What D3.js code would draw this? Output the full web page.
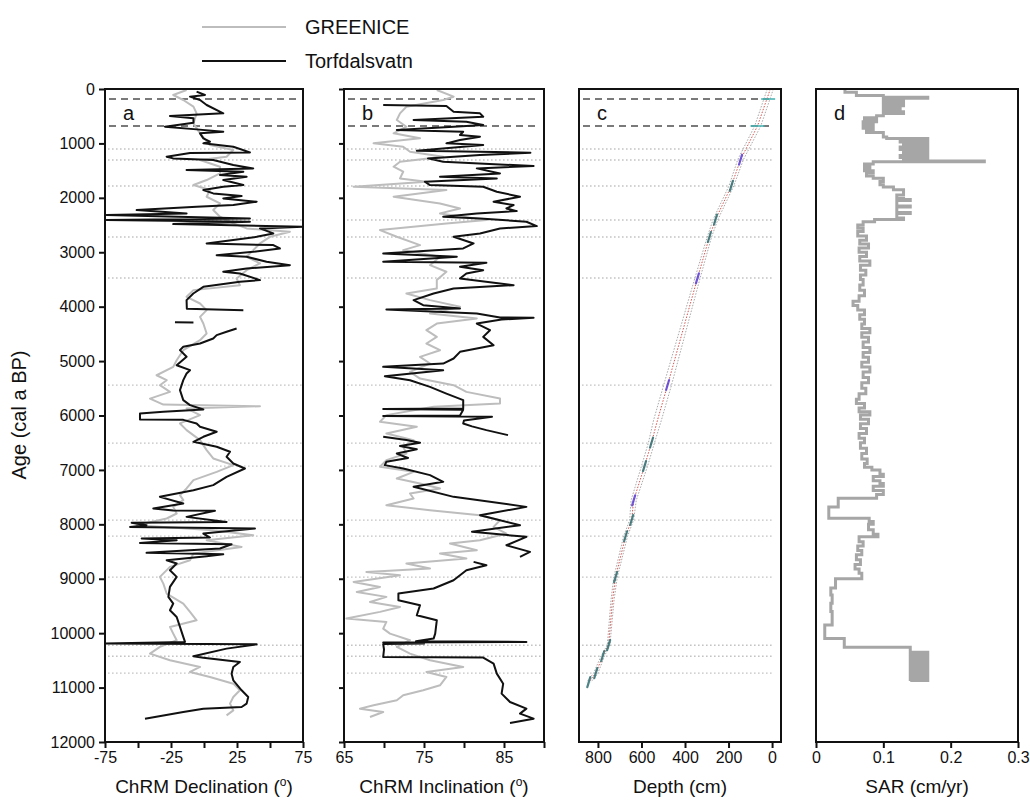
<!DOCTYPE html>
<html>
<head>
<meta charset="utf-8">
<script src="https://cdn.jsdelivr.net/npm/d3@7"></script>
<style>
  html, body { margin: 0; padding: 0; background: #fff; }
  svg text { font-family: "Liberation Sans", Arial, Helvetica, sans-serif; fill: #111; }
</style>
</head>
<body>
<svg id="chart" width="1030" height="800"></svg>
<script>
// ---------- data ----------
// Age axis
const ageTicks = [0, 1000, 2000, 3000, 4000, 5000, 6000, 7000, 8000, 9000, 10000, 11000, 12000];

// Reference horizons (cal a BP)
const dashedAges = [184, 680];
const dottedAges = [1103, 1305, 1783, 2408, 2720, 3474, 5441, 6507, 6930, 7923, 8217, 8971, 10221, 10423, 10735];

// (a) ChRM declination – GREENICE model
const greeniceDeclAge = [18,110,202,325,447,631,815,1030,1122,1244,1306,1428,1551,1673,1765,1857,1980,2103,2225,2348,2470,2562,2624,2716,2838,2961,3083,3206,3329,3482,3605,3696,3819,3942,4064,4187,4310,4494,4616,4800,4984,5106,5260,5351,5443,5566,5689,5800,5830,5870,5993,6146,6269,6453,6637,6790,6912,7035,7188,7341,7464,7556,7679,7801,7893,8016,8108,8200,8292,8415,8537,8659,8782,8966,9089,9272,9456,9609,9763,9885,10008,10130,10253,10376,10498,10621,10713,10805,10928,11050,11173,11295,11418,11510];
const greeniceDecl = [-13.2,-23.3,-15.7,-8,-5.6,-8,-3,4.5,22.2,17.1,-3,12.1,12.1,2,-8,4.5,2,12.1,7,12.1,22.2,32.3,65.1,50,42.4,37.3,32.3,42.4,32.3,24.7,27.2,-8,-13.2,-3,2,-3,-0.5,2,-3,-15.7,-20.7,-23.3,-35.9,-28.3,-33.4,-25.8,-40.9,-30.8,42.4,-13.2,-3,-18.2,-13.2,-3,2,7,22.2,9.6,-8,-13.2,-18.2,-15.7,-23.3,-20.7,-28.3,-51,7,37.3,2,28.5,-8,-10.6,-25.8,-33.4,-30.8,-28.3,-15.7,-10.6,-5.6,-25.8,-23.3,-20.7,-33.4,-40.9,-25.8,-3,-10.6,4.5,22.2,27.2,22.2,19.7,22.2,17.1];

// (a) ChRM declination – Torfdalsvatn (null = gap in record)
const torfDeclAge = [49,110,141,202,294,447,497,539,619,693,742,785,815,907,969,999,1060,1165,1175,1244,1275,1306,1398,1459,1490,1520,1582,1612,1673,1765,1796,1857,1919,1968,2011,2072,2133,2164,2225,2286,2317,2378,2409,2440,2483,2532,2562,2654,2716,2838,2869,2930,2991,3053,3083,3175,3237,3298,3359,3390,3512,3543,3635,3758,3880,4040,4064,null,4285,4290,null,4400,4461,4523,4584,4676,4737,4799,4921,5076,5167,5228,5350,5534,5718,5809,5889,5932,5962,6073,6080,6146,6207,6299,6391,6483,6575,6667,6759,6882,6974,7127,7280,7372,7495,7618,7709,7745,7752,7863,7955,7973,8016,8047,8077,8169,8243,8261,8292,8341,8365,8445,8524,8549,8586,8659,8720,8843,8966,9150,9333,9456,9579,9702,9885,10069,10161,10192,10205,10284,10425,10450,10529,10621,10744,10866,11050,11173,11295,11357,11387,11449,11571];
const torfDecl = [-5.6,0.7,-10.6,-3,2,14.6,-25.8,-8,-8,-29.6,-5.6,14.6,-3,-0.5,4.5,-0.5,22.2,34.8,-10.6,-28.3,-23.3,7,22.2,37.3,-13.2,29.8,12.1,32.3,14.6,29.8,14.6,-0.5,7,28.5,14.6,39.9,22.2,-5.6,-51,-13.2,-73.8,34.8,-73.8,34.8,-23.3,74.8,42.4,52.5,39.9,2,52.5,57.5,37.3,9.6,32.3,47.4,65.1,32.3,14.6,27.2,42.4,27.2,-0.5,-8.1,-13.2,-13,29.8,null,-22,-8,null,24.7,17.1,9.6,7,-3,-15.7,-18.2,-13.2,-20.7,-10.6,-13.2,-15.7,-18.2,-15.7,-10.6,-0.5,-30.8,-48.5,-48.5,-15.7,-5.6,-3,9.6,-0.5,-8,9.6,19.7,17.1,22.2,31,17.1,7,-8,-33.4,-15.7,-38.4,-23.3,8.3,-13.2,17.1,-54.8,-43.5,-56,38.6,-0.5,4.5,-47.2,-20.7,-48.5,20.9,12.1,-43.5,14.6,2,-28.3,-20.7,-25.8,-20.7,-25.8,-27,-23.3,-25.8,-20.7,-18.2,-15.7,-14.4,-75,39.9,17.1,-8,-0.5,27.2,22.2,20.9,22.2,28.5,33.5,32.3,28.5,-0.5,-15.7,-44.7];

// (b) ChRM inclination – GREENICE model
const greeniceIncAge = [18,141,202,325,447,570,693,815,907,999,1060,1152,1244,1336,1428,1520,1643,1704,1796,1857,1980,2103,2195,2286,2409,2470,2593,2716,2869,2961,3083,3237,3359,3512,3666,3758,3880,4003,4125,4217,4310,4432,4555,4677,4800,4922,5045,5198,5321,5443,5566,5689,5778,5840,5993,6115,6207,6330,6453,6575,6698,6820,6943,7035,7158,7250,7341,7434,7525,7648,7740,7832,7924,8047,8169,8292,8353,8476,8537,8629,8721,8813,8874,8935,9058,9150,9242,9333,9426,9518,9609,9732,9793,9916,10008,10130,10253,10376,10498,10621,10713,10805,10958,11050,11142,11234,11326,11387,11449,11541];
const greeniceInc = [76.6,78.7,77.4,72.8,72,71.6,72.8,71.2,74.5,68.7,72.4,73.25,77.4,72,71.2,72.4,72,75.3,66.2,77.8,71.2,77,79.5,77,82.8,77.8,69.5,71.6,74.5,72.4,77,75.75,77.8,76.6,76.6,72.8,75.75,79.5,75.75,81.6,76.6,75.3,76.6,75.3,77,74.5,75.75,73.25,74.5,78.7,80.3,84.5,84.5,76.2,70.3,69.5,74.1,70.3,73.7,72.4,72.8,70.3,69.5,73.7,71.6,74.5,77,73.25,73.7,70.3,75.75,82,84.5,83.7,85.3,82,78.25,81.6,77,80.3,72.8,75.75,67.8,72,66.2,69.5,66.6,70.3,68.25,72,69.5,65.3,70.3,69.9,70.75,73.25,71.6,73.25,75.75,79.9,75.3,77.8,77,74.9,72.4,71.6,68.7,67,69.9,68.25];

// (b) ChRM inclination – Torfdalsvatn (null = gap in record)
const torfIncAge = [294,313,417,447,509,570,601,662,693,754,785,846,877,938,999,1030,1134,1171,1214,1275,1336,1416,1459,1551,1612,1643,1704,1765,1796,1888,1980,2072,2133,2195,2244,2286,2348,2378,2440,2519,2562,2654,2716,2838,2930,3022,3083,3175,3194,3267,3329,3390,3482,3605,3666,3758,3880,3972,4034,4052,4125,4199,4205,4236,4310,4432,4555,4708,4830,4953,5045,5106,5168,5278,5351,5474,5597,5717,5870,5880,5895,6000,6011,6024,6090,6146,6200,6269,6361,null,6391,6450,6500,6560,6620,6700,6780,6850,6912,6974,7096,7219,7311,7495,7679,7832,8016,8138,8230,8384,8506,8598,null,8690,8751,8843,9027,9180,9272,9395,9487,9671,9763,10008,10100,10150,10161,10170,10192,10200,10300,10437,10449,10560,10744,10928,11111,11265,11387,11479,11571,11651];
const torfInc = [69.9,77.8,78.7,82,82.4,73.7,80.3,82.4,78.7,71.6,79.9,79.5,82,79.5,77.8,82.4,74.1,88.3,82,75.5,77.4,88.7,81.6,84.5,77,84.1,75.1,75.75,82.4,84.1,87,83.7,86.2,85.3,86.6,81.6,77.4,82,87.8,89.1,84.5,82,78.7,81.2,79.9,69.9,79.1,69.9,82.8,79.5,82.4,80.3,79.5,86.2,78.7,76.2,73.7,74.9,79.5,70.3,81.6,84.5,88.7,84.7,81.6,83.25,82.4,83.7,79.5,78.7,77.4,69.9,77.4,70.1,73.25,75.75,77.8,79.9,79.9,69.9,79.9,79.5,69.9,83.5,80,79.9,81,82.8,85.5,null,69.9,72.8,74.5,72,74.1,71.6,73,70.3,70.1,72.4,75.75,77.4,73.7,78.7,87.8,82,87,81,87.8,85.3,88.25,87,null,81.2,82.8,80.3,78.7,76.2,71.8,71.8,74.5,74.1,76.6,76.4,76.2,74,87.8,69.9,75,69.9,70,69.9,82.4,83.7,84.1,84.9,84.7,85.75,87.8,87,88.7,85.75];

// (c) Age–depth model: median and envelope
const modelAge   = [0,680,1300,1780,2400,2720,3480,5440,6080,6500,6930,7560,7920,8220,8970,9390,10220,10420,10735,10900];
const modelDepth = [8,67,145,187,260,288,343,480,526,554,586,636,645,673,719,733,751,778,810,842];
const modelMin   = [-6,52,132,176,249,278,331,462,508,540,572,624,636,664,711,726,745,770,800,832];
const modelMax   = [22,80,158,198,271,298,355,498,544,568,600,648,654,682,727,740,757,786,820,852];

// (c) Dated horizons
const dateAge   = [1300,1780,2400,2720,3480,5440,6500,6930,7560,7920,8220,8970,10220,10420,10735,10900];
const dateDepth = [145,187,260,288,343,480,554,586,636,645,673,719,751,778,810,842];
const dateKind  = ["p","t","t","t","p","p","t","t","p","t","t","t","t","t","t","t"];
const tephraAge = [184, 680];
const tephraDepth = [18, 67];

// (d) Sediment accumulation rate (step profile, value holds downward to next age)
const sarAge = [0,60,120,150,170,210,240,280,310,350,380,420,450,490,530,570,600,640,680,720,760,800,880,910,935,975,1000,1040,1065,1110,1140,1190,1220,1260,1290,1325,1335,1380,1420,1460,1500,1540,1600,1640,1700,1760,1800,1850,1950,2010,2030,2050,2150,2170,2270,2290,2370,2400,2440,2500,2560,2620,2700,2780,2850,2920,3000,3080,3160,3240,3330,3420,3500,3600,3700,3800,3900,3980,4060,4150,4230,4320,4400,4480,4560,4650,4750,4840,4930,5020,5110,5200,5300,5400,5500,5600,5700,5780,5860,5930,5990,6070,6150,6240,6330,6420,6500,6600,6700,6800,6880,6950,7000,7080,7120,7200,7250,7300,7380,7450,7520,7680,7890,7950,8000,8100,8180,8230,8320,8400,8480,8560,8650,8740,8820,8900,9000,9170,9300,9450,9600,9850,10100,10260,10350,10375,10400,10425,10450,10475,10500,10525,10550,10575,10600,10625,10650,10675,10700,10725,10750,10775,10800,10825,10850,10870,10880];
const sarValue = [0.043,0.06,0.1,0.166,0.1,0.13,0.1,0.13,0.1,0.125,0.1,0.13,0.1,0.09,0.072,0.09,0.07,0.085,0.07,0.085,0.075,0.1,0.105,0.166,0.125,0.166,0.13,0.166,0.125,0.166,0.13,0.166,0.125,0.166,0.13,0.25,0.085,0.072,0.08,0.072,0.085,0.075,0.085,0.1,0.095,0.1,0.115,0.13,0.12,0.13,0.14,0.12,0.14,0.12,0.14,0.12,0.13,0.087,0.07,0.062,0.07,0.062,0.075,0.065,0.078,0.064,0.075,0.065,0.08,0.066,0.074,0.066,0.07,0.065,0.072,0.064,0.055,0.062,0.072,0.065,0.072,0.068,0.08,0.068,0.078,0.07,0.08,0.07,0.078,0.068,0.08,0.07,0.078,0.068,0.074,0.064,0.06,0.072,0.064,0.08,0.066,0.078,0.066,0.075,0.064,0.072,0.066,0.075,0.068,0.076,0.072,0.083,0.095,0.1,0.085,0.095,0.1,0.085,0.1,0.09,0.033,0.019,0.079,0.085,0.078,0.085,0.092,0.064,0.07,0.062,0.068,0.06,0.066,0.058,0.064,0.068,0.029,0.022,0.024,0.022,0.024,0.013,0.042,0.14,0.166,0.14,0.166,0.14,0.166,0.14,0.166,0.14,0.166,0.14,0.166,0.14,0.166,0.14,0.166,0.14,0.166,0.14,0.166,0.14,0.166,0.14,0.14,0.125];

// Axis ticks and labels
const declTicks = [-75,-50,-25,0,25,50,75];
const declLabels = [-75,-25,25,75];
const incTicks = [65,70,75,80,85,90];
const incLabels = [65,75,85];
const depthTicks = [800,600,400,200,0];
const sarTicks = [0,0.1,0.2,0.3];

const legendNames = ["GREENICE", "Torfdalsvatn"];

// ---------- layout ----------
const svg = d3.select("#chart");
const plotTop = 89, plotBottom = 742;
const y = d3.scaleLinear().domain([0, 12000]).range([plotTop, plotBottom]);

const panels = [
  { key: "a", x: d3.scaleLinear().domain([-75, 75]).range([105, 303]) },
  { key: "b", x: d3.scaleLinear().domain([65, 90]).range([344, 544]) },
  { key: "c", x: d3.scaleLinear().domain([887, -41]).range([579, 781]) },
  { key: "d", x: d3.scaleLinear().domain([0, 0.3]).range([816, 1018]) }
];
const [pa, pb, pc, pd] = panels;

const GREY = "#bdbdbd";
const BLACK = "#111";

// horizon lines in panels a–c
[pa, pb, pc].forEach((p, i) => {
  const [x0, x1] = p.x.range();
  const g = svg.append("g");
  g.selectAll("line.dot").data(dottedAges).join("line")
    .attr("x1", x0 + 3).attr("x2", i === 2 ? x1 - 8 : x1 - 1)
    .attr("y1", d => y(d)).attr("y2", d => y(d))
    .attr("stroke", "#c4c4c4").attr("stroke-width", 1.4)
    .attr("stroke-dasharray", "1.6,2.4");
  g.selectAll("line.dash").data(dashedAges).join("line")
    .attr("x1", x0 + 4).attr("x2", i === 2 ? x1 - 12 : x1 - 4)
    .attr("y1", d => y(d)).attr("y2", d => y(d))
    .attr("stroke", "#7a7a7a").attr("stroke-width", 1.8)
    .attr("stroke-dasharray", "7,5");
});

function profile(xs, ages, vals) {
  return d3.line()
    .defined((d, i) => ages[i] != null && vals[i] != null)
    .x((d, i) => xs(vals[i]))
    .y((d, i) => y(ages[i]))(ages);
}

// panel a
svg.append("path").attr("d", profile(pa.x, greeniceDeclAge, greeniceDecl))
  .attr("fill", "none").attr("stroke", GREY).attr("stroke-width", 2).attr("stroke-linejoin", "round");
svg.append("path").attr("d", profile(pa.x, torfDeclAge, torfDecl))
  .attr("fill", "none").attr("stroke", BLACK).attr("stroke-width", 2).attr("stroke-linejoin", "round");

// panel b
svg.append("path").attr("d", profile(pb.x, greeniceIncAge, greeniceInc))
  .attr("fill", "none").attr("stroke", GREY).attr("stroke-width", 2).attr("stroke-linejoin", "round");
svg.append("path").attr("d", profile(pb.x, torfIncAge, torfInc))
  .attr("fill", "none").attr("stroke", BLACK).attr("stroke-width", 2).attr("stroke-linejoin", "round");

// panel c: envelope, median, dated levels
[modelMin, modelMax].forEach(arr => {
  svg.append("path").attr("d", profile(pc.x, modelAge, arr))
    .attr("fill", "none").attr("stroke", "#a8a8a8").attr("stroke-width", 1)
    .attr("stroke-dasharray", "1.5,1.5");
});
svg.append("path").attr("d", profile(pc.x, modelAge, modelDepth))
  .attr("fill", "none").attr("stroke", "#d9534f").attr("stroke-width", 1)
  .attr("stroke-dasharray", "1.5,1.5");
svg.selectAll("line.date").data(dateAge).join("line")
  .attr("x1", (d, i) => pc.x(dateDepth[i]) + 1.5).attr("x2", (d, i) => pc.x(dateDepth[i]) - 1.5)
  .attr("y1", d => y(d) - 5).attr("y2", d => y(d) + 5)
  .attr("stroke", (d, i) => dateKind[i] === "p" ? "#5b3fd6" : "#2f6f73")
  .attr("stroke-width", 2.2).attr("stroke-linecap", "round").attr("opacity", 0.85);
svg.selectAll("line.teph").data(tephraAge).join("line")
  .attr("x1", (d, i) => pc.x(tephraDepth[i]) - 7).attr("x2", (d, i) => pc.x(tephraDepth[i]) + 7)
  .attr("y1", d => y(d)).attr("y2", d => y(d))
  .attr("stroke", "#4bb3b3").attr("stroke-width", 1.6);

// panel d: SAR step profile
svg.append("path")
  .attr("d", d3.line().curve(d3.curveStepBefore)
    .x((d, i) => pd.x(sarValue[i])).y((d, i) => y(sarAge[i]))(sarAge))
  .attr("fill", "none").attr("stroke", "#a6a6a6").attr("stroke-width", 3);

// frames
panels.forEach(p => {
  const [x0, x1] = p.x.range();
  svg.append("rect").attr("x", x0).attr("y", plotTop).attr("width", x1 - x0).attr("height", plotBottom - plotTop)
    .attr("fill", "none").attr("stroke", "#111").attr("stroke-width", 2);
});

// x axes
function xAxis(p, ticks, labels, fmt) {
  const g = svg.append("g").attr("transform", `translate(0,${plotBottom})`)
    .call(d3.axisBottom(p.x).tickValues(ticks).tickSize(6).tickPadding(4)
      .tickFormat(d => labels.includes(d) ? fmt(d) : ""));
  g.select(".domain").remove();
  g.selectAll(".tick line").attr("stroke", "#111").attr("stroke-width", 2);
  g.selectAll(".tick text").attr("font-size", 16).attr("fill", "#111")
    .style("font-family", '"Liberation Sans", Arial, sans-serif');
}
xAxis(pa, declTicks, declLabels, d => d);
xAxis(pb, incTicks, incLabels, d => d);
xAxis(pc, depthTicks, depthTicks, d => d);
xAxis(pd, sarTicks, sarTicks, d => d);

// y axis (labelled on a, ticks on b)
const ya = svg.append("g").attr("transform", `translate(${pa.x.range()[0]},0)`)
  .call(d3.axisLeft(y).tickValues(ageTicks).tickSize(6).tickPadding(4).tickFormat(d => d));
ya.select(".domain").remove();
ya.selectAll(".tick line").attr("stroke", "#111").attr("stroke-width", 2);
ya.selectAll(".tick text").attr("font-size", 16).attr("fill", "#111")
  .style("font-family", '"Liberation Sans", Arial, sans-serif');
const yb = svg.append("g").attr("transform", `translate(${pb.x.range()[0]},0)`)
  .call(d3.axisLeft(y).tickValues(ageTicks).tickSize(5).tickFormat(""));
yb.select(".domain").remove();
yb.selectAll(".tick line").attr("stroke", "#111").attr("stroke-width", 2);

// panel letters
panels.forEach(p => {
  svg.append("text").attr("x", p.x.range()[0] + 18).attr("y", 120)
    .attr("font-size", 20).text(p.key);
});

// axis titles
function title(p, txt, sup) {
  const cx = (p.x.range()[0] + p.x.range()[1]) / 2;
  const t = svg.append("text").attr("x", cx).attr("y", 793).attr("text-anchor", "middle")
    .attr("font-size", 19).text(txt);
  if (sup) {
    t.append("tspan").attr("font-size", 12).attr("dy", -7).text("o");
    t.append("tspan").attr("dy", 7).text(")");
  }
}
title(pa, "ChRM Declination (", true);
title(pb, "ChRM Inclination (", true);
title(pc, "Depth (cm)", false);
title(pd, "SAR (cm/yr)", false);

svg.append("text").attr("transform", "translate(26,415) rotate(-90)")
  .attr("text-anchor", "middle").attr("font-size", 20).text("Age (cal a BP)");

// legend
const legendColors = [GREY, BLACK];
const lg = svg.append("g");
legendNames.forEach((name, i) => {
  const ly = 27 + i * 34;
  lg.append("line").attr("x1", 202).attr("x2", 286).attr("y1", ly).attr("y2", ly)
    .attr("stroke", legendColors[i]).attr("stroke-width", 2.2);
  lg.append("text").attr("x", 305).attr("y", ly + 7).attr("font-size", 20).text(name);
});
</script>
</body>
</html>
